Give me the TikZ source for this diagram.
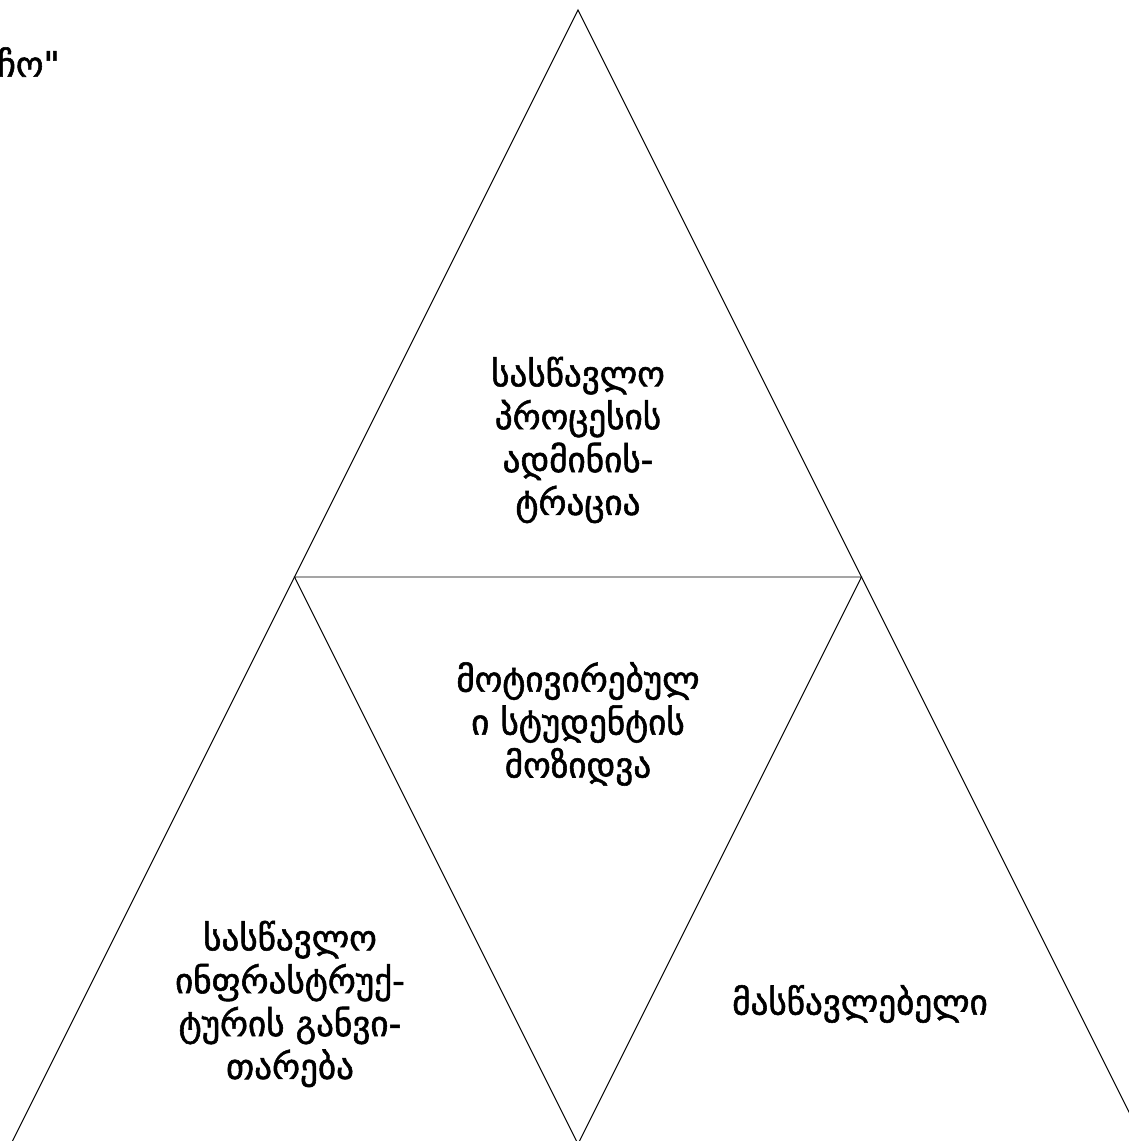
\documentclass[tikz,border=0pt]{standalone}
\usepackage{fontspec}
\newfontfamily\kafont[BoldFont={DejaVu Sans}, BoldFeatures={FakeBold=1.6}]{DejaVu Sans}
\usetikzlibrary{positioning}

\begin{document}
\begin{tikzpicture}[
  x=0.025cm, y=-0.025cm,
  side/.style={draw=black, line width=0.7pt},
  txt/.style={font=\kafont\bfseries\fontsize{25}{30.5}\selectfont, align=center, text=black, inner sep=0pt},
]
\useasboundingbox (0,0) rectangle (1128,1141);

% Corners of the triangles
\coordinate (apex) at (578,10);
\coordinate (midL) at (294.5,577);
\coordinate (midR) at (861.5,577);
\coordinate (botL) at (11,1144);
\coordinate (botM) at (578,1144);
\coordinate (botR) at (1145,1144);

% Outer triangle and inner inverted triangle
\draw[side] (botL) -- (apex) -- (botR);
\draw[side] (midL) -- (midR) -- (botM) -- cycle;

% Texts
\node[txt, anchor=east] (title) at (60,62) {რჩო"};
\node[txt] (admin) at (578,440) {სასწავლო\\პროცესის\\ადმინის-\\ტრაცია};
\node[txt] (students) at (578,724) {მოტივირებულ\\ი სტუდენტის\\მოზიდვა};
\node[txt] (infra) at (290,1004) {სასწავლო\\ინფრასტრუქ-\\ტურის განვი-\\თარება};
\node[txt] (teacher) at (860,1004) {მასწავლებელი};
\end{tikzpicture}
\end{document}
